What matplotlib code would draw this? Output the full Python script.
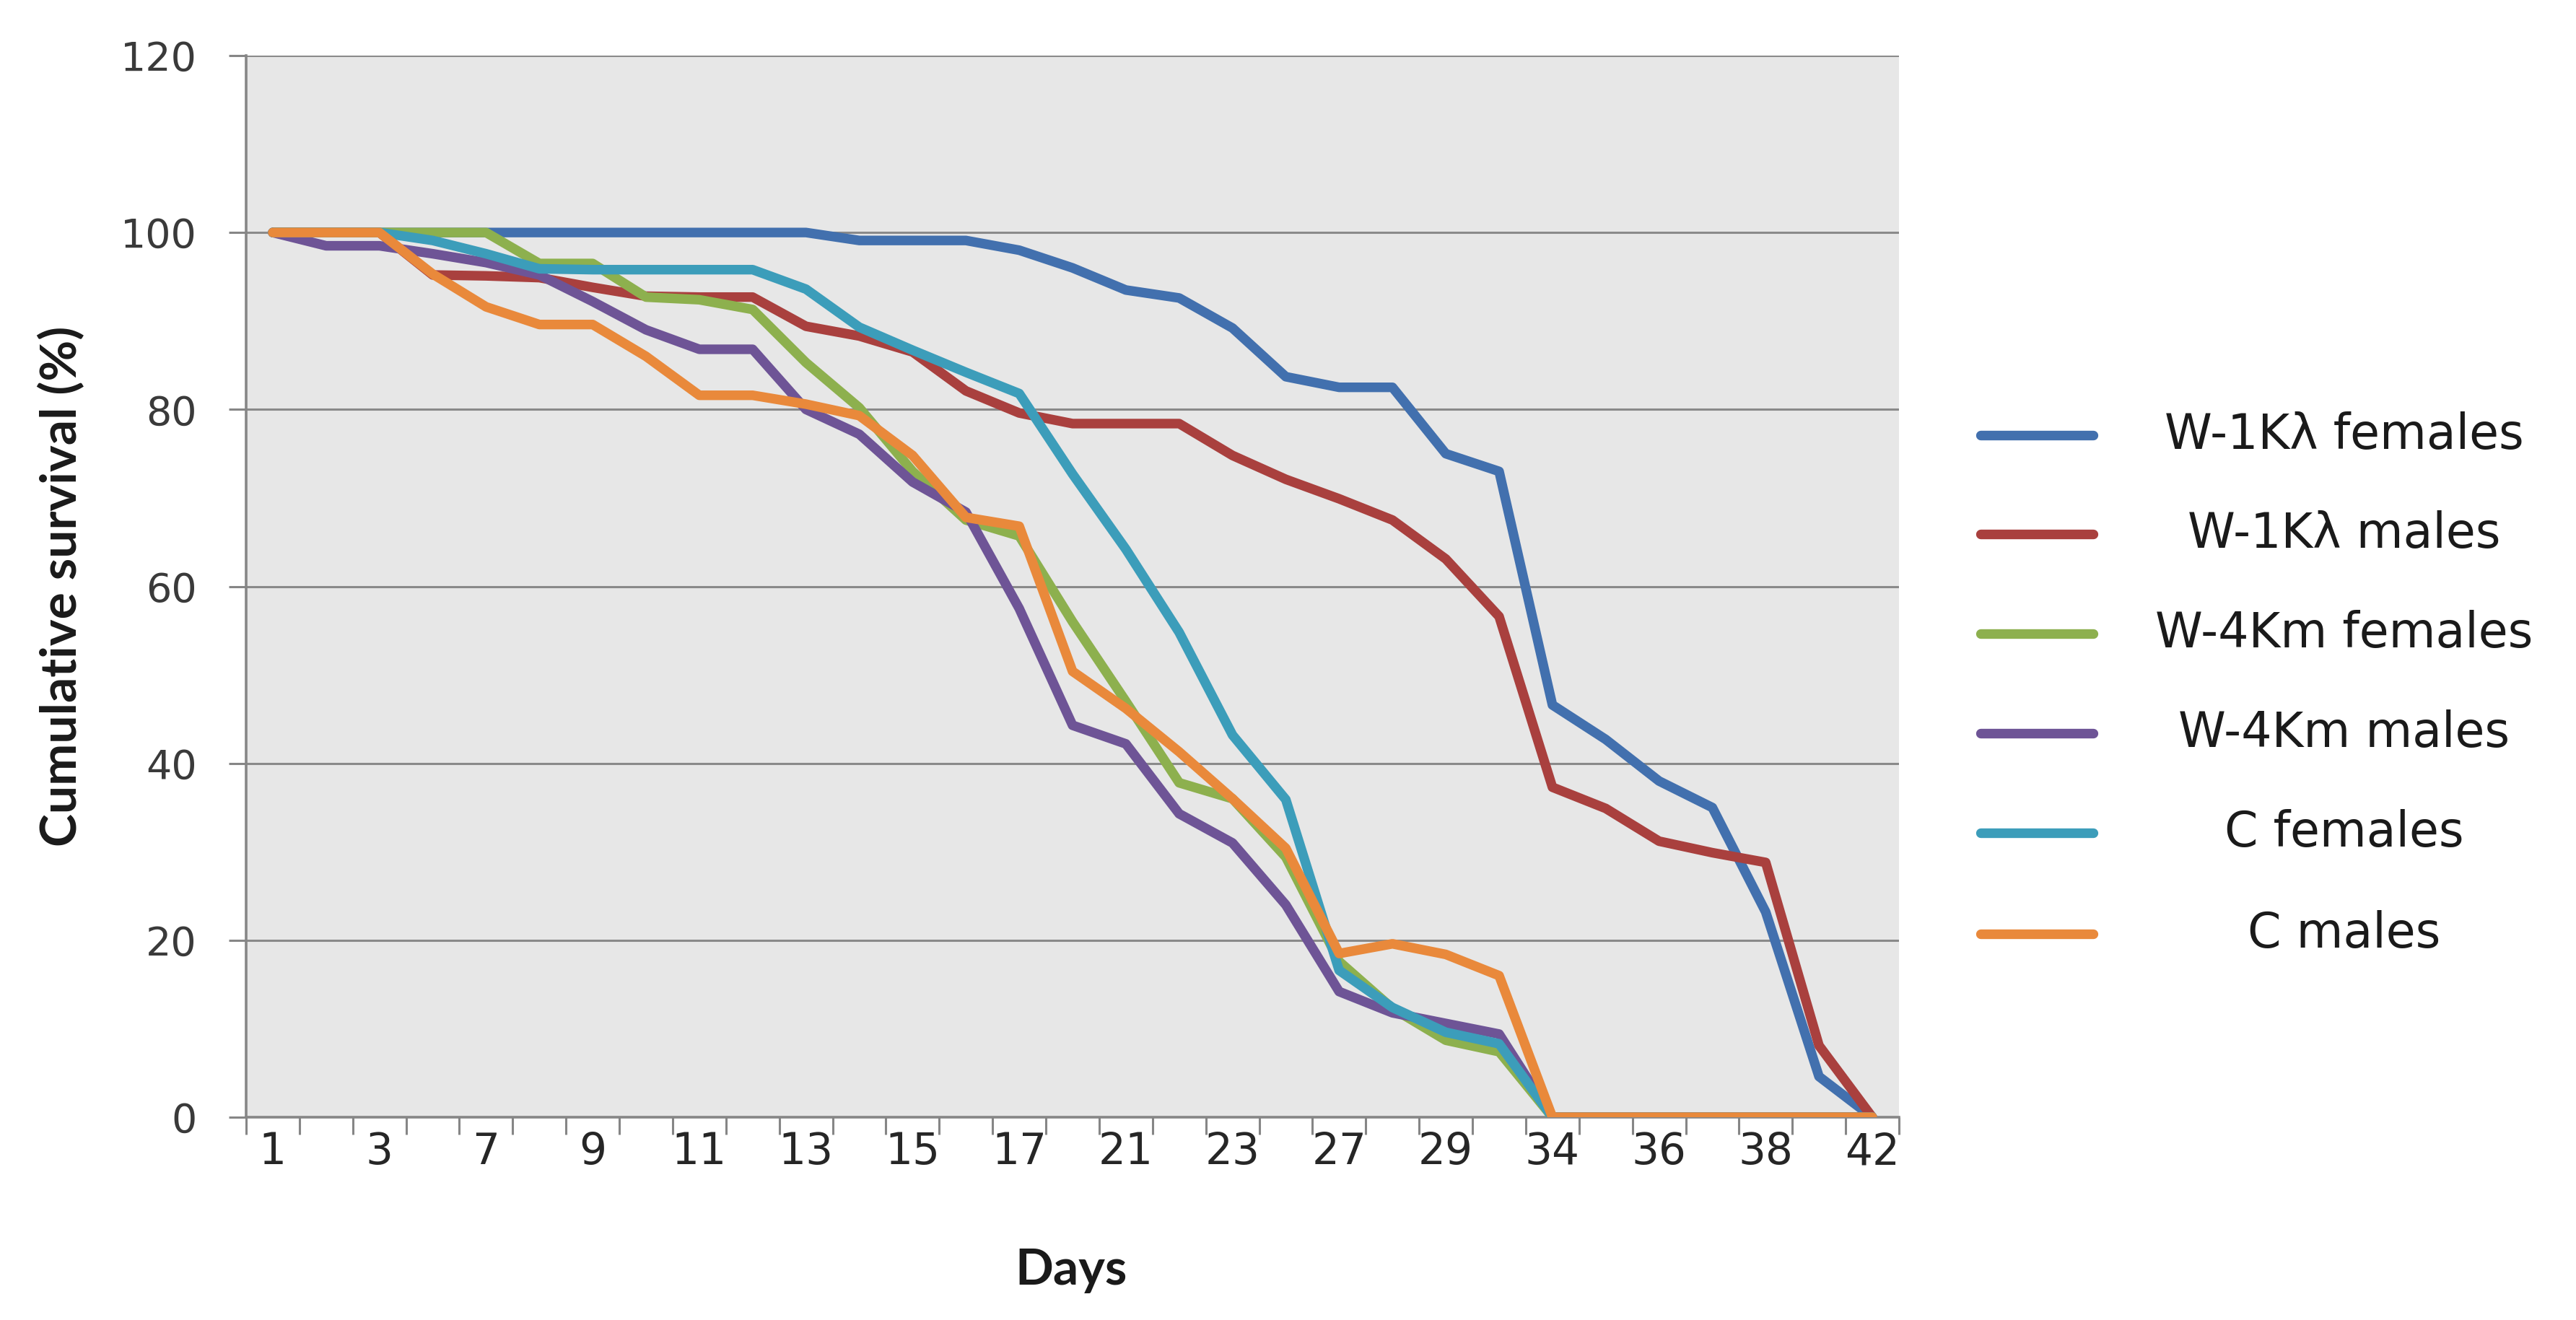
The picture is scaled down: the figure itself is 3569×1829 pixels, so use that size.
import matplotlib
matplotlib.use("Agg")
import matplotlib.pyplot as plt
from matplotlib.lines import Line2D
import numpy as np

# ---- data ----
days = [1, 2, 3, 5, 7, 8, 9, 10, 11, 12, 13, 14, 15, 16, 17, 19, 21, 22, 23, 25,
        27, 28, 29, 31, 34, 35, 36, 37, 38, 40, 42]

w1k_females = [100, 100, 100, 100, 100, 100, 100, 100, 100, 100, 100, 99.1, 99.1, 99.1,
               98, 96, 93.5, 92.6, 89.2, 83.7, 82.5, 82.5, 75, 73, 46.6, 42.7, 38, 35,
               23.2, 4.6, 0]
w1k_males = [100, 100, 100, 95.2, 95.1, 94.9, 93.8, 92.8, 92.7, 92.7, 89.4, 88.3, 86.5,
             82.1, 79.6, 78.4, 78.4, 78.4, 74.8, 72.1, 69.9, 67.5, 63.1, 56.6, 37.3, 34.9,
             31.2, 29.9, 28.8, 8.1, 0]
w4k_females = [100, 100, 100, 100, 100, 96.5, 96.5, 92.7, 92.4, 91.3, 85.3, 80.2, 73,
               67.5, 65.7, 56, 47, 37.8, 36, 29.4, 17.6, 12.3, 8.7, 7.4, 0, 0, 0, 0, 0, 0, 0]
w4k_males = [100, 98.5, 98.5, 97.6, 96.6, 95.2, 92.2, 89, 86.8, 86.8, 80, 77.2, 71.8,
             68.4, 57.5, 44.3, 42.2, 34.3, 31, 24, 14.2, 11.8, 10.6, 9.4, 0, 0, 0, 0, 0, 0, 0]
c_females = [100, 100, 100, 99.1, 97.6, 95.9, 95.8, 95.8, 95.8, 95.8, 93.6, 89.3, 86.7,
             84.2, 81.8, 72.7, 64.2, 54.8, 43.2, 35.9, 16.6, 12.4, 9.6, 8.3, 0, 0, 0, 0, 0, 0, 0]
c_males = [100, 100, 100, 95.3, 91.6, 89.6, 89.6, 86, 81.6, 81.6, 80.6, 79.3, 74.8, 67.8,
           66.8, 50.4, 46.2, 41.3, 36, 30.4, 18.5, 19.6, 18.4, 16, 0, 0, 0, 0, 0, 0, 0]

series_names = ["W-1K\u03bb females", "W-1K\u03bb males", "W-4Km females",
                "W-4Km males", "C females", "C males"]
series_values = [w1k_females, w1k_males, w4k_females, w4k_males, c_females, c_males]
series_colors = ["#4270AE", "#A9403E", "#8DB04E", "#6E5496", "#3C9DBA", "#E9893B"]

y_ticks = [0, 20, 40, 60, 80, 100, 120]

# ---- figure ----
W, H, DPI = 3569, 1829, 200
fig = plt.figure(figsize=(W / DPI, H / DPI), dpi=DPI)
fig.patch.set_facecolor("white")

left, right, top, bottom = 341, 2631, 77, 1548
ax = fig.add_axes([left / W, 1 - bottom / H, (right - left) / W, (bottom - top) / H])
ax.set_facecolor("#E7E7E7")

x = np.arange(len(days))
lw = 4.8
for vals, col in zip(series_values, series_colors):
    ax.plot(x, vals, color=col, lw=lw, solid_joinstyle="round",
            solid_capstyle="round", zorder=3)

ax.set_xlim(-0.5, len(days) - 0.5)
ax.set_ylim(0, 120)

# y axis
ax.set_yticks(y_ticks)
ax.set_yticklabels([str(v) for v in y_ticks], fontfamily="DejaVu Sans",
                   fontsize=20, color="#3a3a3a")
ax.tick_params(axis="y", which="major", length=8.5, width=1.1, color="#868686",
               pad=16)
ax.yaxis.grid(True, color="#8A8A8A", lw=1.1, zorder=1)
ax.set_axisbelow(True)

# x axis: ticks at category boundaries, labels at every other category centre
ax.set_xticks(np.arange(-0.5, len(days), 1.0))
ax.set_xticklabels([])
ax.tick_params(axis="x", which="major", length=8.5, width=1.1, color="#868686")
lab_idx = x[::2]
ax.set_xticks(lab_idx, minor=True)
ax.set_xticklabels([str(days[i]) for i in lab_idx], minor=True,
                   fontfamily=["Liberation Sans Narrow", "DejaVu Sans"],
                   fontsize=21.5, color="#262626")
ax.tick_params(axis="x", which="minor", length=0, pad=7)

for s in ["top", "right"]:
    ax.spines[s].set_visible(False)
for s in ["left", "bottom"]:
    ax.spines[s].set_color("#868686")
    ax.spines[s].set_linewidth(1.3)

fig.text(86 / W, 1 - 812 / H, "Cumulative survival (%)", rotation=90,
         ha="center", va="center", fontsize=25, fontweight="bold",
         family=["Lato", "DejaVu Sans"], color="#1a1a1a")
fig.text(1484 / W, 1 - 1760 / H, "Days", ha="center", va="center",
         fontsize=25, fontweight="bold", family=["Lato", "DejaVu Sans"],
         color="#1a1a1a")

# legend (manual)
leg_y = [603, 740, 878, 1016, 1154, 1294]
for name, col, yy in zip(series_names, series_colors, leg_y):
    fig.add_artist(Line2D([2744 / W, 2900 / W], [1 - yy / H, 1 - yy / H],
                          color=col, lw=lw, solid_capstyle="round",
                          transform=fig.transFigure))
    fig.text(3248 / W, 1 - yy / H, name, ha="center", va="center",
             fontsize=24, family=["DejaVu Sans"], color="#1a1a1a")

fig.savefig("out.png", dpi=DPI, facecolor="white")
